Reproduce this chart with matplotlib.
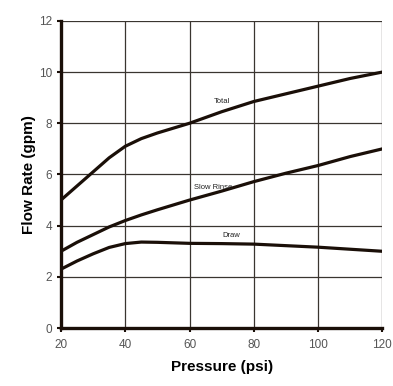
import numpy as np
import matplotlib
matplotlib.use("Agg")
import matplotlib.pyplot as plt

# Datos
pressure = [20, 25, 30, 35, 40, 45, 50, 60, 70, 80, 90, 100, 110, 120]
total = [5.0, 5.55, 6.1, 6.65, 7.1, 7.4, 7.62, 8.0, 8.45, 8.85, 9.15, 9.45, 9.75, 10.0]
slow_rinse = [3.0, 3.35, 3.65, 3.95, 4.2, 4.42, 4.62, 5.0, 5.35, 5.72, 6.05, 6.35, 6.7, 7.0]
draw = [2.3, 2.62, 2.9, 3.15, 3.3, 3.36, 3.35, 3.31, 3.3, 3.28, 3.22, 3.16, 3.08, 3.0]

labels = ["Total", "Slow Rinse", "Draw"]
label_pos = [(70, 8.85), (67.5, 5.5), (73, 3.6)]

plt.rcParams["font.family"] = ["Liberation Sans", "DejaVu Sans"]

fig = plt.figure(figsize=(3.93, 3.86), dpi=100)
ax = fig.add_axes([0.155, 0.150, 0.818, 0.796])

line_color = "#1a0f08"
for serie in [total, slow_rinse, draw]:
    ax.plot(pressure, serie, color=line_color, lw=2.3, solid_capstyle="round",
            solid_joinstyle="round")

for txt, (x, y) in zip(labels, label_pos):
    ax.text(x, y, txt, fontsize=5.5, color="#222222", ha="center", va="center")

ax.set_xlim(20, 120)
ax.set_ylim(0, 12)
ax.set_xticks(np.arange(20, 121, 20))
ax.set_yticks(np.arange(0, 13, 2))
ax.grid(True, color="#3a3530", lw=0.9)
ax.set_axisbelow(True)

for side in ["top", "right"]:
    ax.spines[side].set_visible(False)
ax.spines["left"].set_linewidth(2.4)
ax.spines["bottom"].set_linewidth(2.4)
ax.spines["left"].set_color(line_color)
ax.spines["bottom"].set_color(line_color)

ax.tick_params(axis="both", direction="out", length=3, width=1.5,
               color=line_color, labelsize=8.5, labelcolor="#555555")
ax.tick_params(axis="x", pad=5)

ax.set_xlabel("Pressure (psi)", fontsize=11, fontweight="bold", labelpad=6)
ax.set_ylabel("Flow Rate (gpm)", fontsize=11, fontweight="bold", labelpad=2)

fig.savefig("out.png", dpi=100)
